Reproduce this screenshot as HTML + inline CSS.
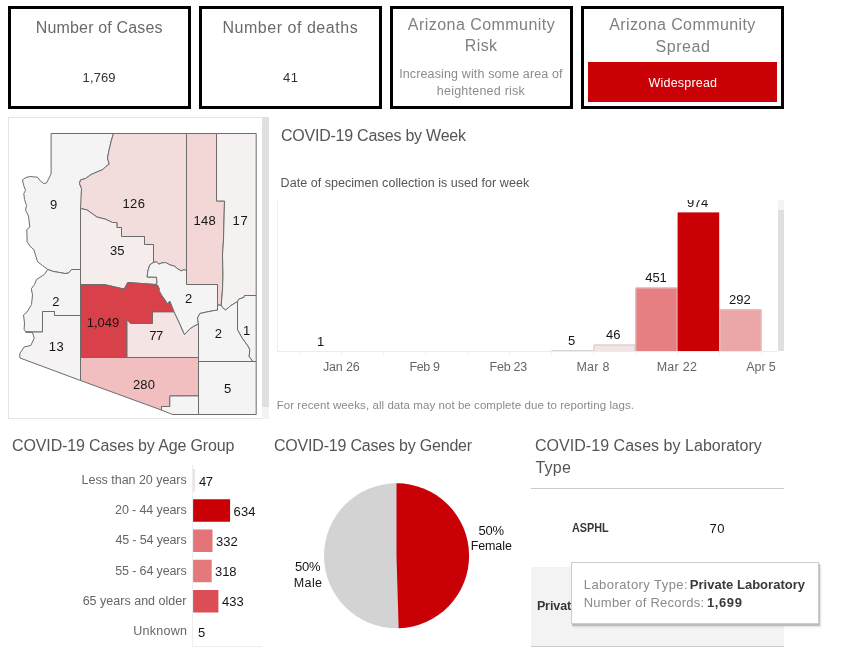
<!DOCTYPE html>
<html><head><meta charset="utf-8"><title>Arizona COVID-19 Dashboard</title>
<style>
html,body{margin:0;padding:0;background:#fff}
body{width:843px;height:657px;position:relative;overflow:hidden;font-family:"Liberation Sans",sans-serif}
.t{position:absolute;white-space:nowrap;line-height:1}
.r{position:absolute}
.box{position:absolute;border:3px solid #000;background:#fff}
</style></head><body>
<div class="box" style="left:8px;top:6px;width:177px;height:97px"></div>
<div class="box" style="left:199px;top:6px;width:177px;height:97px"></div>
<div class="box" style="left:390px;top:6px;width:177px;height:97px"></div>
<div class="box" style="left:581px;top:6px;width:197px;height:97px"></div>
<div class="t" style="left:35.79px;top:20px;font-size:16px;color:#6a6a6a;letter-spacing:0.164px;">Number of Cases</div>
<div class="t" style="left:82.61px;top:71px;font-size:13px;color:#333;letter-spacing:0.093px;">1,769</div>
<div class="t" style="left:222.39px;top:20px;font-size:16px;color:#6a6a6a;letter-spacing:0.540px;">Number of deaths</div>
<div class="t" style="left:283.01px;top:71px;font-size:13px;color:#333;letter-spacing:0.454px;">41</div>
<div class="t" style="left:407.77px;top:17px;font-size:16px;color:#808080;letter-spacing:0.460px;">Arizona Community</div>
<div class="t" style="left:464.79px;top:38px;font-size:16px;color:#808080;letter-spacing:0.392px;">Risk</div>
<div class="t" style="left:399.15px;top:68px;font-size:12.5px;color:#8c8c8c;letter-spacing:0.134px;">Increasing with some area of</div>
<div class="t" style="left:436.84px;top:85px;font-size:12.5px;color:#8c8c8c;letter-spacing:0.226px;">heightened risk</div>
<div class="t" style="left:609.17px;top:17px;font-size:16px;color:#808080;letter-spacing:0.410px;">Arizona Community</div>
<div class="t" style="left:655.48px;top:39px;font-size:16px;color:#808080;letter-spacing:0.552px;">Spread</div>
<div class="r" style="left:588px;top:62px;width:189px;height:40px;background:#c90005;"></div>
<div class="t" style="left:648.55px;top:77px;font-size:12.5px;color:#fff;letter-spacing:0.194px;">Widespread</div>
<div class="r" style="left:8px;top:117px;width:254px;height:300px;border:1px solid #e4e4e4;background:#fff"></div>
<div class="r" style="left:262px;top:117px;width:7px;height:302px;background:#f3f3f3;"></div>
<div class="r" style="left:262px;top:117px;width:7px;height:290px;background:#e0e0e0;"></div>
<svg class="r" style="left:0;top:0" width="843" height="657" viewBox="0 0 843 657">
<g stroke="#6c6c6c" stroke-width="1" stroke-linejoin="round">
<polygon points="51.1,133.5 113.5,133.5 111.2,141.0 109.2,149.5 107.5,158.0 109.2,164.1 105.9,166.5 102.9,169.5 98.0,171.5 91.1,174.5 85.5,178.5 80.5,179.9 79.5,183.5 81.5,188.5 80.5,269.5 71.5,269.5 68.5,273.1 64.9,273.5 59.5,272.5 53.5,271.5 47.8,269.5 42.5,265.5 37.5,261.8 35.5,255.1 33.8,249.5 30.2,246.5 27.1,241.5 26.8,229.5 29.8,227.0 28.5,216.1 25.5,210.0 26.5,205.5 24.5,199.5 23.8,193.5 25.5,190.5 23.5,184.8 22.5,179.9 25.9,177.5 30.2,176.5 33.8,176.9 37.5,177.2 40.5,181.1 43.8,183.5 46.5,183.0 51.1,173.8" fill="#f4f4f4"/>
<polygon points="113.5,133.5 186.5,133.5 186.5,270.9 184.1,269.5 181.5,270.9 178.0,269.1 174.1,266.0 169.8,264.8 165.5,262.5 161.5,263.0 158.9,264.2 156.5,261.8 153.5,262.5 153.5,262.5 153.5,244.5 144.5,244.5 144.5,236.5 121.5,236.5 121.5,227.5 116.9,227.5 116.9,222.5 112.5,222.5 105.5,219.2 96.9,217.0 87.0,209.9 80.5,208.5 81.5,188.5 79.5,183.5 80.5,179.9 85.5,178.5 91.1,174.5 98.0,171.5 102.9,169.5 105.9,166.5 109.2,164.1 107.5,158.0 109.2,149.5 111.2,141.0 113.5,133.5" fill="#f2dcdc"/>
<polygon points="186.5,133.5 216.5,133.5 216.5,201.0 224.5,201.0 223.5,240.0 222.5,255.0 223.0,275.0 222.5,290.0 221.2,305.2 217.5,305.2 217.5,284.5 186.5,284.5" fill="#f3d6d6"/>
<polygon points="216.5,133.5 256.2,133.5 256.2,295.5 244.5,295.5 243.8,297.5 238.9,299.1 237.5,301.5 230.5,305.8 225.5,310.1 222.5,307.5 221.2,305.2 221.2,305.2 222.5,290.0 223.0,275.0 222.5,255.0 223.5,240.0 224.5,201.0 216.5,201.0" fill="#f5f1f0"/>
<polygon points="80.5,208.5 87.0,209.9 96.9,217.0 105.5,219.2 112.5,222.5 116.9,222.5 116.9,227.5 121.5,227.5 121.5,236.5 144.5,236.5 144.5,244.5 153.5,244.5 153.5,262.5 149.8,264.8 147.9,270.9 147.1,277.0 156.5,277.2 157.1,283.1 155.2,284.5 155.2,284.5 127.8,282.5 124.2,289.1 104.0,284.5 80.5,284.5" fill="#f4edeb"/>
<polygon points="80.5,269.5 80.5,315.5 54.5,315.5 54.5,311.5 42.5,311.5 42.5,332.0 25.9,332.0 24.1,329.5 24.5,322.9 23.5,315.0 27.1,311.9 31.5,304.5 32.5,294.9 31.5,290.0 31.5,288.5 34.5,284.5 36.5,279.5 44.2,274.5 47.8,269.5 53.5,271.5 59.5,272.5 64.9,273.5 68.5,273.1 71.5,269.5" fill="#f4f4f4"/>
<polygon points="80.5,315.5 80.5,380.5 19.8,357.9 19.8,353.5 24.1,347.0 30.8,345.5 34.2,338.1 32.5,332.5 25.9,332.0 42.5,332.0 42.5,311.5 54.5,311.5 54.5,315.5 80.5,315.5" fill="#f5f3f3"/>
<polygon points="80.5,284.5 104.0,284.5 124.2,289.1 127.8,282.5 155.2,284.5 157.5,284.9 159.5,289.1 158.9,290.0 161.5,294.9 167.5,303.5 169.8,301.0 173.5,310.1 174.1,311.9 152.5,311.9 152.5,323.5 130.5,323.5 127.0,319.8 127.0,357.5 80.5,357.5" fill="#d9414a"/>
<polygon points="174.1,311.9 178.0,320.0 184.5,334.5 190.2,328.5 195.0,325.5 198.5,324.1 198.5,357.5 127.0,357.5 127.0,319.8 130.5,323.5 152.5,323.5 152.5,311.9" fill="#f5e4e4"/>
<polygon points="153.5,262.5 156.5,261.8 158.9,264.2 161.5,263.0 165.5,262.5 169.8,264.8 174.1,266.0 178.0,269.1 181.5,270.9 184.1,269.5 186.5,270.9 186.5,284.5 217.5,284.5 217.5,310.1 214.5,310.5 207.2,311.9 199.9,313.5 197.5,318.0 198.5,324.1 195.0,325.5 190.2,328.5 184.5,334.5 178.0,320.0 174.1,311.9 173.5,310.1 169.8,301.0 167.5,303.5 161.5,294.9 158.9,290.0 159.5,289.1 157.5,284.9 155.2,284.5 157.1,283.1 156.5,277.2 147.1,277.0 147.9,270.9 149.8,264.8" fill="#f4f4f4"/>
<polygon points="198.5,324.1 197.5,318.0 199.9,313.5 207.2,311.9 214.5,310.5 217.5,310.1 217.5,305.2 221.2,305.2 222.5,307.5 225.5,310.1 230.5,305.8 237.5,301.5 237.5,329.5 242.5,338.5 248.0,346.0 249.8,349.5 249.2,356.5 252.9,361.5 198.5,361.5" fill="#f4f4f4"/>
<polygon points="237.5,301.5 238.9,299.1 243.8,297.5 244.5,295.5 256.2,295.5 256.2,361.5 252.9,361.5 249.2,356.5 249.8,349.5 248.0,346.0 242.5,338.5 237.5,329.5" fill="#f4f4f4"/>
<polygon points="198.5,361.5 256.2,361.5 256.2,414.5 198.5,414.5" fill="#f4f4f4"/>
<polygon points="80.5,357.5 198.5,357.5 198.5,395.9 169.8,396.0 169.8,406.5 161.5,406.5 161.5,410.1 80.5,380.5" fill="#f1bfc0"/>
<polygon points="169.8,396.0 198.5,395.9 198.5,414.5 172.5,414.5 161.5,410.1 161.5,406.5 169.8,406.5" fill="#f4f4f4"/>
</g>
<circle cx="396.5" cy="555.8" r="72.5" fill="#d3d3d3"/>
<path d="M396.5,555.8 L396.5,483.29999999999995 A72.5,72.5 0 0 1 398.65,628.27 Z" fill="#c90005"/>
<rect x="299" y="352" width="1" height="4" fill="#f3f3f3"/>
<rect x="341" y="352" width="1" height="3" fill="#f3f3f3"/>
<rect x="383" y="352" width="1" height="4" fill="#f3f3f3"/>
<rect x="425" y="352" width="1" height="3" fill="#f3f3f3"/>
<rect x="467" y="352" width="1" height="4" fill="#f3f3f3"/>
<rect x="509" y="352" width="1" height="3" fill="#f3f3f3"/>
<rect x="551" y="352" width="1" height="4" fill="#f3f3f3"/>
<rect x="593" y="352" width="1" height="3" fill="#f3f3f3"/>
<rect x="635" y="352" width="1" height="4" fill="#f3f3f3"/>
<rect x="677" y="352" width="1" height="3" fill="#f3f3f3"/>
<rect x="719" y="352" width="1" height="4" fill="#f3f3f3"/>
<rect x="761" y="352" width="1" height="3" fill="#f3f3f3"/>
<rect x="551.5" y="350.2" width="42" height="0.8" fill="#c8c8c8"/>
<rect x="593.5" y="344.5" width="42.0" height="6.5" fill="#f3e5e5"/>
<path d="M594.0,351 V345.0 H635.0 V351" fill="none" stroke="#cfc9c9" stroke-width="1"/>
<rect x="635.5" y="287.6" width="42.0" height="63.4" fill="#e57f82"/>
<path d="M636.0,351 V288.1 H677.0 V351" fill="none" stroke="#e3b4b6" stroke-width="1"/>
<rect x="677.6" y="212.4" width="41.6" height="138.6" fill="#c90005"/>
<rect x="719.5" y="309.2" width="42.1" height="41.8" fill="#eba7a8"/>
<path d="M720.0,351 V309.7 H761.1 V351" fill="none" stroke="#ecc0c0" stroke-width="1"/>
<rect x="193.1" y="469.00" width="1.8" height="22.5" fill="#f0dfdf"/>
<rect x="193.1" y="499.25" width="37.0" height="22.5" fill="#c90005"/>
<rect x="193.1" y="529.50" width="19.4" height="22.5" fill="#e37477"/>
<rect x="193.1" y="559.75" width="18.6" height="22.5" fill="#e4797b"/>
<rect x="193.1" y="590.00" width="25.3" height="22.5" fill="#dc4e56"/>
</svg>
<div class="t" style="left:50.04px;top:198px;font-size:13px;color:#151515;">9</div>
<div class="t" style="left:122.61px;top:197px;font-size:13px;color:#151515;letter-spacing:0.282px;">126</div>
<div class="t" style="left:193.41px;top:214px;font-size:13px;color:#151515;letter-spacing:0.281px;">148</div>
<div class="t" style="left:232.60px;top:214px;font-size:13px;color:#151515;letter-spacing:0.600px;">17</div>
<div class="t" style="left:110.01px;top:244px;font-size:13px;color:#151515;letter-spacing:-0.029px;">35</div>
<div class="t" style="left:52.14px;top:295px;font-size:13px;color:#151515;">2</div>
<div class="t" style="left:86.81px;top:316px;font-size:13px;color:#151515;letter-spacing:-0.007px;">1,049</div>
<div class="t" style="left:149.14px;top:329px;font-size:13px;color:#151515;letter-spacing:-0.443px;">77</div>
<div class="t" style="left:185.04px;top:292px;font-size:13px;color:#151515;">2</div>
<div class="t" style="left:214.84px;top:327px;font-size:13px;color:#151515;">2</div>
<div class="t" style="left:243.00px;top:324px;font-size:13px;color:#151515;">1</div>
<div class="t" style="left:48.76px;top:340px;font-size:13px;color:#151515;letter-spacing:0.600px;">13</div>
<div class="t" style="left:132.95px;top:378px;font-size:13px;color:#151515;letter-spacing:0.130px;">280</div>
<div class="t" style="left:224.04px;top:382px;font-size:13px;color:#151515;">5</div>
<div class="t" style="left:281.00px;top:128px;font-size:16px;color:#555;letter-spacing:-0.240px;">COVID-19 Cases by Week</div>
<div class="t" style="left:280.58px;top:177px;font-size:12.5px;color:#555;letter-spacing:0.045px;">Date of specimen collection is used for week</div>
<div class="r" style="left:277px;top:200px;width:1px;height:152px;background:#eeeeee;"></div>
<div class="r" style="left:277px;top:351px;width:501px;height:1px;background:#ececec;"></div>
<div class="r" style="left:778px;top:200px;width:6px;height:151px;background:#f3f3f3;"></div>
<div class="r" style="left:778px;top:210px;width:6px;height:141px;background:#dfdfdf;"></div>
<div class="t" style="left:316.95px;top:335px;font-size:13px;color:#151515;">1</div>
<div class="t" style="left:568.09px;top:334px;font-size:13px;color:#151515;">5</div>
<div class="t" style="left:606.11px;top:328px;font-size:13px;color:#151515;letter-spacing:-0.011px;">46</div>
<div class="t" style="left:645.31px;top:271px;font-size:13px;color:#151515;letter-spacing:-0.137px;">451</div>
<div class="t" style="left:728.95px;top:293px;font-size:13px;color:#151515;letter-spacing:0.058px;">292</div>
<div class="r" style="left:600px;top:200px;width:170px;height:12px;overflow:hidden">
<div class="t" style="left:86.90px;top:-4px;font-size:13px;color:#151515;letter-spacing:-0.205px;">974</div>
</div>
<div class="t" style="left:322.91px;top:361px;font-size:12.5px;color:#666;letter-spacing:-0.140px;">Jan 26</div>
<div class="t" style="left:409.48px;top:361px;font-size:12.5px;color:#666;letter-spacing:-0.387px;">Feb 9</div>
<div class="t" style="left:489.58px;top:361px;font-size:12.5px;color:#666;letter-spacing:-0.270px;">Feb 23</div>
<div class="t" style="left:576.48px;top:361px;font-size:12.5px;color:#666;letter-spacing:0.228px;">Mar 8</div>
<div class="t" style="left:656.68px;top:361px;font-size:12.5px;color:#666;letter-spacing:0.290px;">Mar 22</div>
<div class="t" style="left:746.27px;top:361px;font-size:12.5px;color:#666;letter-spacing:-0.084px;">Apr 5</div>
<div class="t" style="left:276.66px;top:400px;font-size:11.5px;color:#8a8a8a;letter-spacing:0.065px;">For recent weeks, all data may not be complete due to reporting lags.</div>
<div class="t" style="left:12.10px;top:438px;font-size:16px;color:#555;letter-spacing:-0.136px;">COVID-19 Cases by Age Group</div>
<div class="r" style="left:192px;top:465px;width:1px;height:182px;background:#eeeeee;"></div>
<div class="r" style="left:192px;top:646px;width:70px;height:1px;background:#eeeeee;"></div>
<div class="t" style="left:81.57px;top:474px;font-size:12.5px;color:#666;letter-spacing:-0.032px;">Less than 20 years</div>
<div class="t" style="left:198.91px;top:475px;font-size:13px;color:#151515;letter-spacing:-0.320px;">47</div>
<div class="t" style="left:115.08px;top:504px;font-size:12.5px;color:#666;letter-spacing:-0.115px;">20 - 44 years</div>
<div class="t" style="left:233.55px;top:505px;font-size:13px;color:#151515;letter-spacing:0.122px;">634</div>
<div class="t" style="left:115.42px;top:534px;font-size:12.5px;color:#666;letter-spacing:-0.144px;">45 - 54 years</div>
<div class="t" style="left:216.01px;top:535px;font-size:13px;color:#151515;letter-spacing:0.030px;">332</div>
<div class="t" style="left:115.20px;top:565px;font-size:12.5px;color:#666;letter-spacing:-0.125px;">55 - 64 years</div>
<div class="t" style="left:215.01px;top:565px;font-size:13px;color:#151515;letter-spacing:-0.066px;">318</div>
<div class="t" style="left:82.67px;top:595px;font-size:12.5px;color:#666;letter-spacing:0.011px;">65 years and older</div>
<div class="t" style="left:222.01px;top:595px;font-size:13px;color:#151515;letter-spacing:0.030px;">433</div>
<div class="t" style="left:133.24px;top:625px;font-size:12.5px;color:#666;letter-spacing:0.275px;">Unknown</div>
<div class="t" style="left:198.04px;top:626px;font-size:13px;color:#151515;">5</div>
<div class="t" style="left:274.00px;top:438px;font-size:16px;color:#555;letter-spacing:-0.200px;">COVID-19 Cases by Gender</div>
<div class="t" style="left:478.48px;top:524px;font-size:13px;color:#151515;letter-spacing:-0.169px;">50%</div>
<div class="t" style="left:470.68px;top:540px;font-size:12.5px;color:#151515;letter-spacing:-0.100px;">Female</div>
<div class="t" style="left:295.08px;top:560px;font-size:13px;color:#151515;letter-spacing:-0.219px;">50%</div>
<div class="t" style="left:293.68px;top:577px;font-size:12.5px;color:#151515;letter-spacing:0.429px;">Male</div>
<div class="t" style="left:535.00px;top:438px;font-size:16px;color:#555;letter-spacing:0.036px;">COVID-19 Cases by Laboratory</div>
<div class="t" style="left:535.45px;top:460px;font-size:16px;color:#555;letter-spacing:0.256px;">Type</div>
<div class="r" style="left:531px;top:488px;width:253px;height:1px;background:#cbcbcb;"></div>
<div class="t" style="left:572.11px;top:522px;font-size:12px;color:#383838;font-weight:bold;transform:scaleX(0.902);transform-origin:0.29px 0;">ASPHL</div>
<div class="t" style="left:709.54px;top:522px;font-size:13px;color:#151515;letter-spacing:0.600px;">70</div>
<div class="r" style="left:531px;top:567px;width:253px;height:79px;background:#f3f3f3;"></div>
<div class="r" style="left:531px;top:646px;width:253px;height:1px;background:#cbcbcb;"></div>
<div class="t" style="left:536.88px;top:600px;font-size:12.5px;color:#383838;letter-spacing:-0.093px;font-weight:bold;">Privat</div>
<div class="r" style="left:571px;top:562px;width:246px;height:60px;background:#fff;border:1px solid #cdcdcd;box-shadow:1px 2px 0 0 #bdbdbd, 2px 3px 2px rgba(0,0,0,.12)"></div>
<div class="t" style="left:583.73px;top:578px;font-size:13px;color:#8a8a8a;letter-spacing:0.441px;">Laboratory Type:</div>
<div class="t" style="left:689.74px;top:578px;font-size:13px;color:#3a3a3a;letter-spacing:0.027px;font-weight:bold;">Private Laboratory</div>
<div class="t" style="left:583.73px;top:596px;font-size:13px;color:#8a8a8a;letter-spacing:0.237px;">Number of Records:</div>
<div class="t" style="left:706.97px;top:596px;font-size:13px;color:#3a3a3a;letter-spacing:0.600px;font-weight:bold;">1,699</div>
</body></html>
